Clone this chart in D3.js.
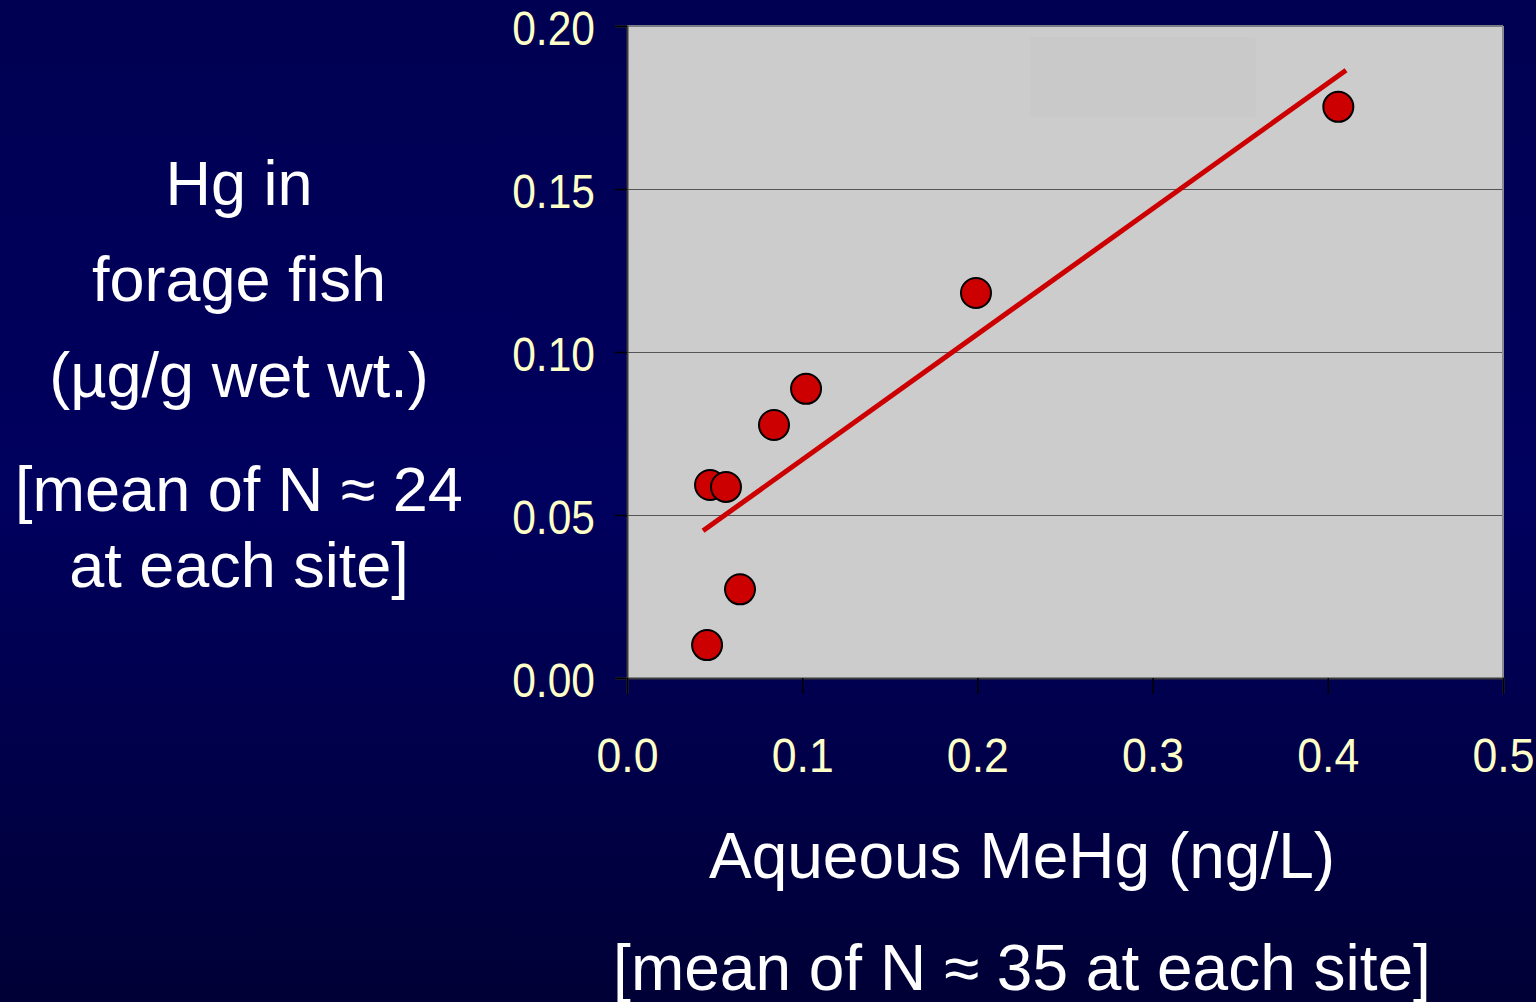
<!DOCTYPE html>
<html>
<head>
<meta charset="utf-8">
<script src="https://cdn.jsdelivr.net/npm/d3@7"></script>
<style>
  html, body { margin: 0; padding: 0; background: #000050; overflow: hidden; }
  svg { display: block; }
</style>
</head>
<body>
<svg id="chart" width="1536" height="1002"></svg>
<script>
// Site means: aqueous MeHg (ng/L) vs Hg in forage fish (µg/g wet wt.)
const aqueousMeHg = [0.0457, 0.0474, 0.0565, 0.0645, 0.0839, 0.1022, 0.1992, 0.4060];
const fishHg      = [0.0101, 0.0592, 0.0586, 0.0272, 0.0776, 0.0887, 0.1181, 0.1752];

// Axis ticks
const xTicks = [0.0, 0.1, 0.2, 0.3, 0.4, 0.5];
const yTicks = [0.00, 0.05, 0.10, 0.15, 0.20];

// x extent covered by the fitted line
const trendRange = [0.0434, 0.4104];

// Axis titles
const yTitleLines = ["Hg in", "forage fish", "(µg/g wet wt.)", "[mean of N ≈ 24", "at each site]"];
const xTitleLines = ["Aqueous MeHg (ng/L)", "[mean of N ≈ 35 at each site]"];

const svg = d3.select("#chart");
const W = 1536, H = 1002;
const plot = { left: 627, right: 1503, top: 26, bottom: 678 };

// Background gradient
const defs = svg.append("defs");
const grad = defs.append("linearGradient").attr("id", "bg").attr("x1", 0).attr("y1", 0).attr("x2", 0).attr("y2", 1);
grad.append("stop").attr("offset", "0%").attr("stop-color", "#000052");
grad.append("stop").attr("offset", "50%").attr("stop-color", "#00005e");
grad.append("stop").attr("offset", "100%").attr("stop-color", "#000036");
svg.append("rect").attr("width", W).attr("height", H).attr("fill", "url(#bg)");

const x = d3.scaleLinear().domain([0, 0.5]).range([plot.left, plot.right]);
const y = d3.scaleLinear().domain([0, 0.20]).range([plot.bottom, plot.top]);

// Plot area
svg.append("rect")
  .attr("x", plot.left).attr("y", plot.top)
  .attr("width", plot.right - plot.left).attr("height", plot.bottom - plot.top)
  .attr("fill", "#cccccc");

// Faint empty box in the upper plot area
svg.append("rect")
  .attr("x", x(0.2303)).attr("y", y(0.1966))
  .attr("width", x(0.3587) - x(0.2303)).attr("height", y(0.1722) - y(0.1966))
  .attr("fill", "#c9c9c9");

// Horizontal gridlines
svg.append("g").selectAll("line")
  .data(yTicks.filter(d => d > 0 && d < 0.20))
  .join("line")
  .attr("x1", plot.left).attr("x2", plot.right)
  .attr("y1", d => Math.round(y(d)) + 0.5).attr("y2", d => Math.round(y(d)) + 0.5)
  .attr("stroke", "#555555").attr("stroke-width", 1);

// Plot frame: light top/right, dark left/bottom
svg.append("line").attr("x1", plot.left).attr("x2", plot.right).attr("y1", plot.top).attr("y2", plot.top)
  .attr("stroke", "#7a7a84").attr("stroke-width", 2);
svg.append("line").attr("x1", plot.right).attr("x2", plot.right).attr("y1", plot.top).attr("y2", plot.bottom)
  .attr("stroke", "#8a8a90").attr("stroke-width", 2);

// Tick labels: thin Arial-style digits, horizontally condensed
const tickFont = "'Liberation Sans', Arial, sans-serif";
const charWidth = 20.7;
function styleTickText(sel) {
  sel.attr("fill", "#ffffc8")
    .attr("font-family", tickFont)
    .attr("font-size", 49)
    .attr("lengthAdjust", "spacingAndGlyphs")
    .attr("textLength", function () { return this.textContent.length * charWidth; });
}

// Y axis
const yAxis = svg.append("g")
  .attr("transform", `translate(${plot.left},0)`)
  .call(d3.axisLeft(y).tickValues(yTicks).tickFormat(d3.format(".2f")).tickSize(12).tickPadding(20));
yAxis.select(".domain").attr("stroke", "#3a3a3a").attr("stroke-width", 2);
yAxis.selectAll(".tick line").attr("stroke", "#000000").attr("stroke-width", 1.5);
yAxis.selectAll(".tick text").attr("dy", "0.38em").call(styleTickText);

// X axis
const xAxis = svg.append("g")
  .attr("transform", `translate(0,${plot.bottom})`)
  .call(d3.axisBottom(x).tickValues(xTicks).tickFormat(d3.format(".1f")).tickSize(16).tickPadding(43));
xAxis.select(".domain").attr("stroke", "#3a3a3a").attr("stroke-width", 2);
xAxis.selectAll(".tick line").attr("stroke", "#000000").attr("stroke-width", 1.5);
xAxis.selectAll(".tick text").attr("dy", "0.71em").call(styleTickText);

// Least-squares fit of fish Hg on aqueous MeHg
const pts = aqueousMeHg.map((v, i) => ({ x: v, y: fishHg[i] }));
const mx = d3.mean(pts, d => d.x), my = d3.mean(pts, d => d.y);
const slope = d3.sum(pts, d => (d.x - mx) * (d.y - my)) / d3.sum(pts, d => (d.x - mx) ** 2);
const intercept = my - slope * mx;

svg.append("path")
  .datum(trendRange.map(v => ({ x: v, y: intercept + slope * v })))
  .attr("d", d3.line().x(d => x(d.x)).y(d => y(d.y)))
  .attr("stroke", "#cc0000").attr("stroke-width", 5).attr("fill", "none");

// Site points
svg.append("g").selectAll("circle")
  .data(pts)
  .join("circle")
  .attr("cx", d => x(d.x)).attr("cy", d => y(d.y))
  .attr("r", 15)
  .attr("fill", "#cc0000")
  .attr("stroke", "#000000").attr("stroke-width", 2);

// Axis titles
const titleFont = "'Liberation Sans', Arial, Helvetica, sans-serif";
const yBaselines = [205, 301, 397, 511, 587];
svg.append("g").selectAll("text")
  .data(yTitleLines)
  .join("text")
  .attr("x", 239).attr("y", (d, i) => yBaselines[i])
  .attr("text-anchor", "middle")
  .attr("font-family", titleFont).attr("font-size", 63)
  .attr("fill", "#ffffff")
  .text(d => d);

const xBaselines = [878, 990];
svg.append("g").selectAll("text")
  .data(xTitleLines)
  .join("text")
  .attr("x", 1022).attr("y", (d, i) => xBaselines[i])
  .attr("text-anchor", "middle")
  .attr("font-family", titleFont).attr("font-size", 64)
  .attr("fill", "#ffffff")
  .text(d => d);
</script>
</body>
</html>
